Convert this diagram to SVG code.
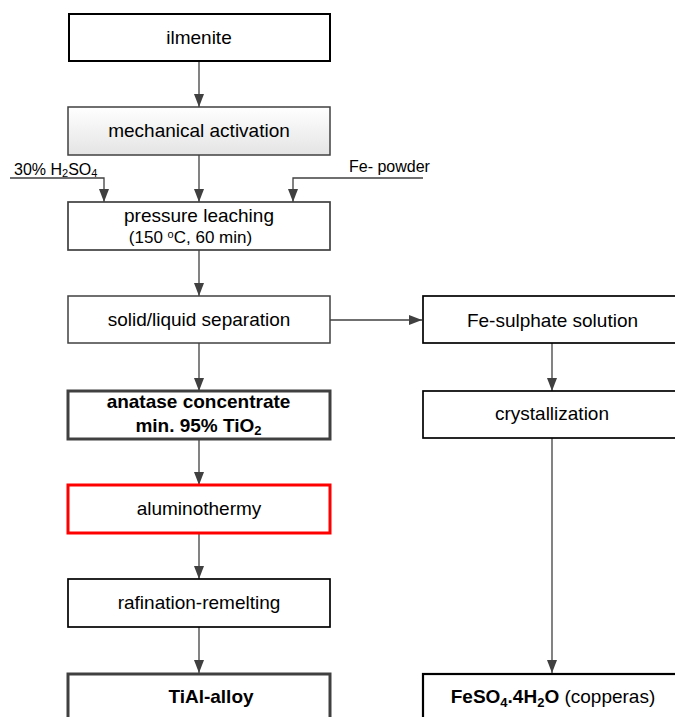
<svg xmlns="http://www.w3.org/2000/svg" width="675" height="717" viewBox="0 0 675 717">
<style>
text{font-family:"Liberation Sans",Arial,sans-serif;fill:#000}
.t{font-size:19px;text-anchor:middle}
.b{font-weight:bold}
.s{font-size:16px}
.c{fill:none;stroke:#404040;stroke-width:1.3}
.box{fill:#fff}
</style>
<defs>
<marker id="ah" markerUnits="userSpaceOnUse" markerWidth="13" markerHeight="10" refX="13" refY="5" orient="auto">
<path d="M0,0 L13,5 L0,10 z" fill="#404040"/>
</marker>
<linearGradient id="g" x1="0" y1="0" x2="0" y2="1">
<stop offset="0" stop-color="#ffffff"/>
<stop offset="1" stop-color="#e4e4e4"/>
</linearGradient>
</defs>
<g id="connectors">
<path class="c" d="M199,61 V107" marker-end="url(#ah)"/>
<path class="c" d="M199,155 V202" marker-end="url(#ah)"/>
<path class="c" d="M10,178 H104 V202" marker-end="url(#ah)"/>
<path class="c" d="M423,178 H293 V202" marker-end="url(#ah)"/>
<path class="c" d="M199,250 V296" marker-end="url(#ah)"/>
<path class="c" d="M330,320 H422" marker-end="url(#ah)"/>
<path class="c" d="M199,343 V391" marker-end="url(#ah)"/>
<path class="c" d="M199,439 V485" marker-end="url(#ah)"/>
<path class="c" d="M199,533 V579" marker-end="url(#ah)"/>
<path class="c" d="M199,627 V673" marker-end="url(#ah)"/>
<path class="c" d="M552,343 V391" marker-end="url(#ah)"/>
<path class="c" d="M552,438 V673" marker-end="url(#ah)"/>
<text class="s" x="14" y="175">30% H<tspan font-size="11" dy="2">2</tspan><tspan dy="-2">SO</tspan><tspan font-size="11" dy="2">4</tspan></text>
<text class="s" x="349" y="172">Fe- powder</text>
</g>
<g id="ilmenite">
<rect class="box" x="69" y="14" width="261" height="47" stroke="#000" stroke-width="2"/>
<text class="t" x="199" y="43.5">ilmenite</text>
</g>
<g id="mechanical-activation">
<rect x="68" y="107" width="262" height="48" fill="url(#g)" stroke="#404040" stroke-width="1.5"/>
<text class="t" x="199" y="137.3">mechanical activation</text>
</g>
<g id="pressure-leaching">
<rect class="box" x="68" y="202" width="262" height="48" stroke="#404040" stroke-width="1.7"/>
<text class="t" x="199" y="222">pressure leaching</text>
<text font-size="17" x="190.5" y="242.5" text-anchor="middle">(150 <tspan font-size="11" dy="-5">o</tspan><tspan dy="5">C, 60 min)</tspan></text>
</g>
<g id="solid-liquid-separation">
<rect class="box" x="68" y="296" width="262" height="47" stroke="#404040" stroke-width="1.5"/>
<text class="t" x="199" y="326">solid/liquid separation</text>
</g>
<g id="fe-sulphate-solution">
<rect class="box" x="423" y="296" width="262" height="47" stroke="#000" stroke-width="1.7"/>
<text class="t" x="552.5" y="326.5">Fe-sulphate solution</text>
</g>
<g id="anatase-concentrate">
<rect class="box" x="68" y="391" width="262" height="48" stroke="#404040" stroke-width="3"/>
<text class="t b" x="198.5" y="408.3">anatase concentrate</text>
<text class="t b" x="198.5" y="431.7">min. 95% TiO<tspan font-size="13" dy="3.5">2</tspan></text>
</g>
<g id="aluminothermy">
<rect class="box" x="68" y="485" width="262" height="48" stroke="#ff0000" stroke-width="3"/>
<text class="t" x="199" y="515">aluminothermy</text>
</g>
<g id="rafination-remelting">
<rect class="box" x="68" y="579" width="262" height="48" stroke="#000" stroke-width="1.7"/>
<text class="t" x="199" y="609.3">rafination-remelting</text>
</g>
<g id="tial-alloy">
<rect class="box" x="68" y="674" width="262" height="60" stroke="#404040" stroke-width="3"/>
<text class="t b" x="211" y="703.3">TiAl-alloy</text>
</g>
<g id="crystallization">
<rect class="box" x="423" y="391" width="262" height="47" stroke="#000" stroke-width="1.7"/>
<text class="t" x="552" y="420">crystallization</text>
</g>
<g id="feso4">
<rect class="box" x="423" y="674" width="262" height="60" stroke="#000" stroke-width="2.2"/>
<text class="t" x="553" y="703.3"><tspan font-weight="bold">FeSO<tspan font-size="13" dy="3.5">4</tspan><tspan dy="-3.5">.4H</tspan><tspan font-size="13" dy="3.5">2</tspan><tspan dy="-3.5">O</tspan></tspan> (copperas)</text>
</g>
</svg>
